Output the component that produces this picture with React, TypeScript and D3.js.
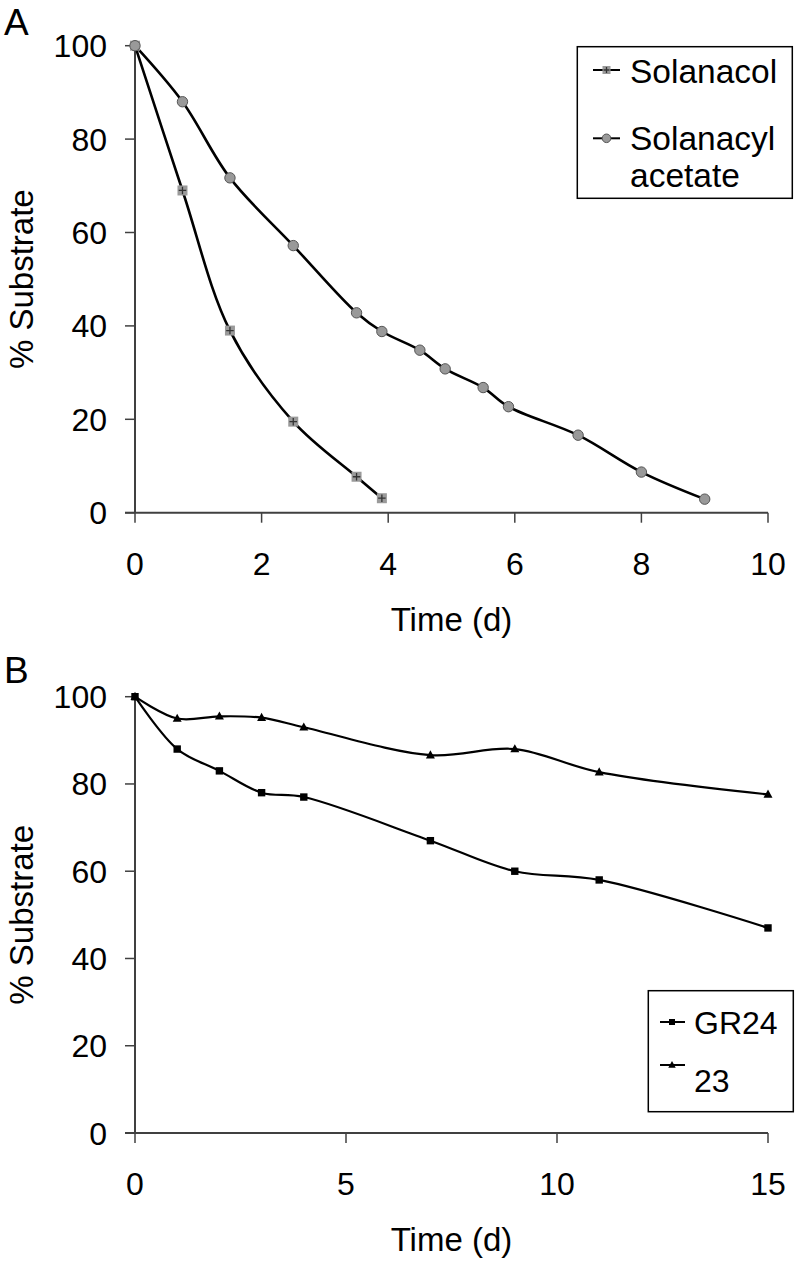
import React from "react";
import * as d3 from "d3";

// Panel A data
const solanacolTime = [0, 0.75, 1.5, 2.5, 3.5, 3.9];
const solanacolPct = [100, 69, 39, 19.5, 7.7, 3.1];
const acetateTime = [0, 0.75, 1.5, 2.5, 3.5, 3.9, 4.5, 4.9, 5.5, 5.9, 7, 8, 9];
const acetatePct = [100, 88, 71.7, 57.2, 42.8, 38.8, 34.8, 30.8, 26.8, 22.7, 16.6, 8.7, 2.9];
const aXTicks = [0, 2, 4, 6, 8, 10];
const yTicks = [0, 20, 40, 60, 80, 100];

// Panel B data
const bTime = [0, 1, 2, 3, 4, 7, 9, 11, 15];
const gr24Pct = [100, 88, 83, 78, 77, 67, 60, 58, 47];
const c23Pct = [100, 95, 95.5, 95.2, 93, 86.6, 88, 82.7, 77.6];
const bXTicks = [0, 5, 10, 15];

const FONT = "Liberation Sans, Arial, sans-serif";
const AX = "#404040";

type P = [number, number];
const zip = (xs: number[], ys: number[]): P[] => xs.map((x, i) => [x, ys[i]]);

function Axes({ x, y, xTicks, xLabel, title, panelLabel, labelY }: any) {
  const [x0, x1] = x.range();
  const [y0, y1] = y.range();
  return (
    <g fontFamily={FONT}>
      <line x1={x0} x2={x0} y1={y0} y2={y1} stroke={AX} strokeWidth={2} />
      <line x1={x0 - 10} x2={x1} y1={y0} y2={y0} stroke={AX} strokeWidth={2} />
      {yTicks.map((t) => (
        <g key={"y" + t}>
          <line x1={x0 - 10} x2={x0} y1={y(t)} y2={y(t)} stroke={AX} strokeWidth={1.5} />
          <text x={107} y={y(t) + 11.5} fontSize={32} textAnchor="end" fill="#000">{t}</text>
        </g>
      ))}
      {xTicks.map((t: number) => (
        <g key={"x" + t}>
          <line x1={x(t)} x2={x(t)} y1={y0} y2={y0 + 10} stroke={AX} strokeWidth={1.5} />
          <text x={x(t)} y={y0 + 62} fontSize={32} textAnchor="middle" fill="#000">{t}</text>
        </g>
      ))}
      <text x={(x0 + x1) / 2} y={y0 + 118} fontSize={33} textAnchor="middle" fill="#000">{xLabel}</text>
      <text transform={`translate(33,${(y0 + y1) / 2}) rotate(-90)`} fontSize={33} textAnchor="middle" fill="#000">{title}</text>
      <text x={4} y={labelY} fontSize={37} fill="#000">{panelLabel}</text>
    </g>
  );
}

function CrossSquare({ cx, cy, s }: { cx: number; cy: number; s: number }) {
  const h = s / 2;
  const c = h * 0.75;
  return (
    <g>
      <rect x={cx - h} y={cy - h} width={s} height={s} fill="#9a9a9a" />
      <path d={`M${cx - c},${cy}H${cx + c}M${cx},${cy - c}V${cy + c}`} stroke="#333" strokeWidth={1.3} />
    </g>
  );
}

function Triangle({ cx, cy, s }: { cx: number; cy: number; s: number }) {
  const h = s * 0.9;
  return <path d={`M${cx},${cy - h * 0.6}L${cx + s / 2},${cy + h * 0.4}L${cx - s / 2},${cy + h * 0.4}Z`} fill="#000" />;
}

export default function App() {
  const xA = d3.scaleLinear().domain([0, 10]).range([135, 768]);
  const yA = d3.scaleLinear().domain([0, 100]).range([512.7, 45.7]);
  const xB = d3.scaleLinear().domain([0, 15]).range([135, 768]);
  const yB = d3.scaleLinear().domain([0, 100]).range([1133, 696.7]);

  const curve = d3.curveCatmullRom.alpha(0.5);
  const lineA = d3.line<P>().x((d) => xA(d[0])).y((d) => yA(d[1])).curve(curve);
  const lineB = d3.line<P>().x((d) => xB(d[0])).y((d) => yB(d[1])).curve(curve);

  const sol = zip(solanacolTime, solanacolPct);
  const ac = zip(acetateTime, acetatePct);
  const gr = zip(bTime, gr24Pct);
  const c23 = zip(bTime, c23Pct);

  return (
    <svg width={797} height={1263} style={{ position: "absolute", left: 0, top: 0, background: "#fff" }}>
      <rect width={797} height={1263} fill="#fff" />
      <Axes x={xA} y={yA} xTicks={aXTicks} xLabel="Time (d)" title="% Substrate" panelLabel="A" labelY={35} />
      <Axes x={xB} y={yB} xTicks={bXTicks} xLabel="Time (d)" title="% Substrate" panelLabel="B" labelY={683} />

      {/* Panel A lines */}
      <path d={lineA(sol) || ""} fill="none" stroke="#000" strokeWidth={2.6} />
      <path d={lineA(ac) || ""} fill="none" stroke="#000" strokeWidth={2.6} />
      {sol.map((d, i) => (
        <CrossSquare key={"s" + i} cx={xA(d[0])} cy={yA(d[1])} s={10} />
      ))}
      {ac.map((d, i) => (
        <circle key={"c" + i} cx={xA(d[0])} cy={yA(d[1])} r={5.2} fill="#999" stroke="#555" strokeWidth={1} />
      ))}

      {/* Legend A */}
      <g fontFamily={FONT}>
        <rect x={577.3} y={46.7} width={215} height={151.6} fill="#fff" stroke="#000" strokeWidth={1.5} />
        <line x1={593} x2={620} y1={70} y2={70} stroke="#000" strokeWidth={2} />
        <CrossSquare cx={606.5} cy={70} s={8} />
        <text x={630} y={82.7} fontSize={33.5} fill="#000">Solanacol</text>
        <line x1={593} x2={620} y1={138.3} y2={138.3} stroke="#000" strokeWidth={2} />
        <circle cx={606.5} cy={138.3} r={4.3} fill="#999" stroke="#555" strokeWidth={1} />
        <text x={630} y={150} fontSize={33.5} fill="#000">Solanacyl</text>
        <text x={630} y={187.3} fontSize={33.5} fill="#000">acetate</text>
      </g>

      {/* Panel B lines */}
      <path d={lineB(gr) || ""} fill="none" stroke="#000" strokeWidth={2.2} />
      <path d={lineB(c23) || ""} fill="none" stroke="#000" strokeWidth={2.2} />
      {gr.map((d, i) => (
        <rect key={"g" + i} x={xB(d[0]) - 3.7} y={yB(d[1]) - 3.7} width={7.4} height={7.4} fill="#000" />
      ))}
      {c23.map((d, i) => (
        <Triangle key={"t" + i} cx={xB(d[0])} cy={yB(d[1])} s={9} />
      ))}

      {/* Legend B */}
      <g fontFamily={FONT}>
        <rect x={648.3} y={990.7} width={145} height={121} fill="#fff" stroke="#000" strokeWidth={1.5} />
        <line x1={660} x2={685} y1={1022} y2={1022} stroke="#000" strokeWidth={2} />
        <rect x={669} y={1019} width={6} height={6} fill="#000" />
        <text x={694} y={1034} fontSize={32} fill="#000">GR24</text>
        <line x1={660} x2={685} y1={1065} y2={1065} stroke="#000" strokeWidth={2} />
        <Triangle cx={672} cy={1065} s={7.5} />
        <text x={694} y={1091.7} fontSize={32} fill="#000">23</text>
      </g>
    </svg>
  );
}
